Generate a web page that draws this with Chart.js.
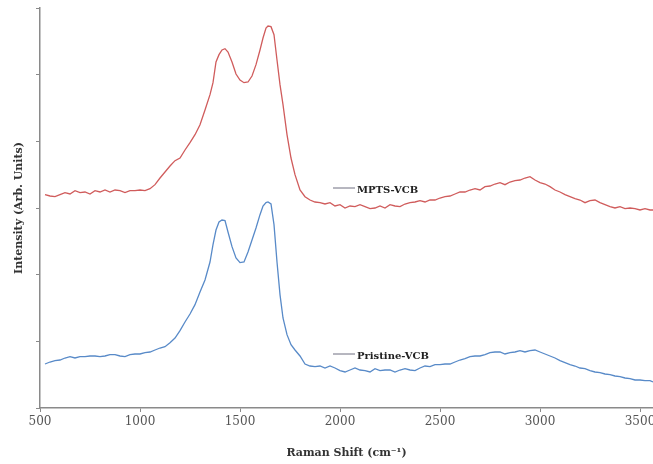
<!DOCTYPE html>
<html>
<head>
<meta charset="utf-8">
<script src="https://cdn.jsdelivr.net/npm/chart.js@4"></script>
<style>
  html, body { margin: 0; padding: 0; background: #fff; }
</style>
</head>
<body>
<canvas id="myChart" width="653" height="464"></canvas>
<script>
// Raman shift (cm-1), shared by both spectra
const shift = [
  525, 550, 575, 600, 625, 650, 675, 700, 725, 750, 775, 800, 825, 850, 875, 900, 925, 950, 975, 1000,
  1025, 1050, 1075, 1100, 1125, 1150, 1175, 1200, 1225, 1250, 1275, 1300, 1325, 1350,
  1365, 1380, 1395, 1410, 1425, 1440, 1460, 1480, 1500, 1520, 1540, 1560, 1580, 1600, 1615, 1630,
  1640, 1655, 1670, 1685, 1700, 1715, 1735, 1755, 1775,
  1800, 1825, 1850, 1875, 1900, 1925, 1950, 1975, 2000, 2025, 2050, 2075, 2100, 2125, 2150, 2175,
  2200, 2225, 2250, 2275, 2300, 2325, 2350, 2375, 2400, 2425, 2450, 2475, 2500, 2525, 2550, 2575,
  2600, 2625, 2650, 2675, 2700, 2725, 2750, 2775, 2800, 2825, 2850, 2875, 2900, 2925, 2950, 2975,
  3000, 3025, 3050, 3075, 3100, 3125, 3150, 3175, 3200, 3225, 3250, 3275, 3300, 3325, 3350, 3375,
  3400, 3425, 3450, 3475, 3500, 3525, 3550, 3565
];

// MPTS-VCB (offset upward)
const mptsVcb = [
  320, 318, 317, 320, 323, 321, 326, 323, 324, 321, 326, 324, 327, 324, 327, 326, 323, 326, 326, 327,
  326, 329, 335, 345, 354, 363, 371, 375, 387, 398, 410, 425, 447, 470,
  488, 519, 530, 537, 539, 534, 519, 501, 492, 488, 489, 498, 515, 537, 555, 570,
  573, 572, 560, 522, 485, 455, 410, 375, 350,
  327, 317, 312, 309, 308, 306, 308, 303, 305, 300, 303, 302, 305, 302, 299, 300,
  303, 300, 305, 303, 302, 306, 308, 309, 311, 309, 312, 312, 315, 317, 318, 321,
  324, 324, 327, 329, 327, 332, 333, 336, 338, 335, 339, 341, 342, 345, 347, 342,
  338, 336, 332, 327, 324, 320, 317, 314, 312, 308, 311, 312, 308, 305, 302, 300,
  302, 299, 300, 299, 297, 299, 297, 297
];

// Pristine-VCB
const pristineVcb = [
  66, 69, 71, 72, 75, 77, 75, 77, 77, 78, 78, 77, 78, 80, 80, 78, 77, 80, 81, 81,
  83, 84, 87, 90, 92, 98, 105, 116, 129, 141, 155, 174, 192, 219,
  245, 267, 279, 282, 281, 264, 242, 225, 218, 219, 234, 252, 270, 290, 303, 308,
  309, 306, 275, 219, 170, 135, 110, 95, 87,
  78, 66, 63, 62, 63, 60, 63, 60, 56, 54, 57, 60, 57, 56, 54, 59,
  56, 57, 57, 54, 57, 59, 57, 56, 60, 63, 62, 65, 65, 66, 66, 69,
  72, 74, 77, 78, 78, 80, 83, 84, 84, 81, 83, 84, 86, 84, 86, 87,
  84, 81, 78, 75, 71, 68, 65, 63, 60, 59, 56, 54, 53, 51, 50, 48,
  47, 45, 44, 42, 42, 41, 41, 39
];

const seriesNames = ['MPTS-VCB', 'Pristine-VCB'];
const xTicks = [500, 1000, 1500, 2000, 2500, 3000, 3500];

const serif = '"DejaVu Serif", "Liberation Serif", serif';
const colors = ['rgb(208, 92, 92)', 'rgb(88, 138, 200)'];

// Etiquetas en linea junto a cada curva (como en el original)
const inlineLabels = {
  id: 'inlineLabels',
  afterDatasetsDraw(chart) {
    const { ctx, scales: { x, y } } = chart;
    const spots = [[1965, 330], [1965, 81]];
    ctx.save();
    ctx.font = 'bold 10px ' + serif;
    ctx.textBaseline = 'middle';
    seriesNames.forEach((name, i) => {
      const px = x.getPixelForValue(spots[i][0]);
      const py = y.getPixelForValue(spots[i][1]);
      ctx.strokeStyle = '#6f6f80';
      ctx.lineWidth = 1;
      ctx.beginPath();
      ctx.moveTo(px, py);
      ctx.lineTo(px + 22, py);
      ctx.stroke();
      ctx.fillStyle = '#222';
      ctx.fillText(name, px + 24, py + 2);
    });
    ctx.restore();
  }
};

const ctx = document.getElementById('myChart').getContext('2d');

new Chart(ctx, {
  type: 'line',
  data: {
    datasets: [
      {
        label: seriesNames[0],
        data: shift.map((s, i) => ({ x: s, y: mptsVcb[i] })),
        borderColor: colors[0],
        borderWidth: 1.3,
        pointRadius: 0,
        tension: 0
      },
      {
        label: seriesNames[1],
        data: shift.map((s, i) => ({ x: s, y: pristineVcb[i] })),
        borderColor: colors[1],
        borderWidth: 1.3,
        pointRadius: 0,
        tension: 0
      }
    ]
  },
  options: {
    responsive: false,
    animation: false,
    layout: { padding: { top: 8, right: 0, left: 0, bottom: 0 } },
    plugins: {
      legend: { display: false },
      tooltip: { enabled: false }
    },
    scales: {
      x: {
        type: 'linear',
        min: 500,
        max: 3565,
        afterBuildTicks: s => { s.ticks = xTicks.map(v => ({ value: v })); },
        afterFit: s => { s.height = 56; s.paddingRight = 0; s.paddingLeft = 0; },
        grid: { display: true, drawOnChartArea: false, drawTicks: true, tickLength: 4, color: '#8a8a8a' },
        border: { color: '#8a8a8a', width: 1.5 },
        ticks: {
          color: '#555',
          font: { family: serif, size: 12 },
          padding: 3,
          maxRotation: 0,
          callback: v => String(v)
        },
        title: {
          display: true,
          text: 'Raman Shift (cm⁻¹)',
          color: '#333',
          font: { family: serif, size: 11, weight: 'bold' },
          padding: { top: 0, bottom: 4 }
        }
      },
      y: {
        min: 0,
        max: 600,
        afterFit: s => { s.width = 40; s.paddingTop = 0; s.paddingBottom = 0; },
        grid: { display: true, drawOnChartArea: false, drawTicks: true, tickLength: 4, color: '#8a8a8a' },
        border: { color: '#8a8a8a', width: 1.5 },
        ticks: { stepSize: 100, display: false },
        title: {
          display: true,
          text: 'Intensity (Arb. Units)',
          color: '#333',
          font: { family: serif, size: 11, weight: 'bold' },
          padding: { top: 13, bottom: 0 }
        }
      }
    }
  },
  plugins: [inlineLabels]
});
</script>
</body>
</html>
